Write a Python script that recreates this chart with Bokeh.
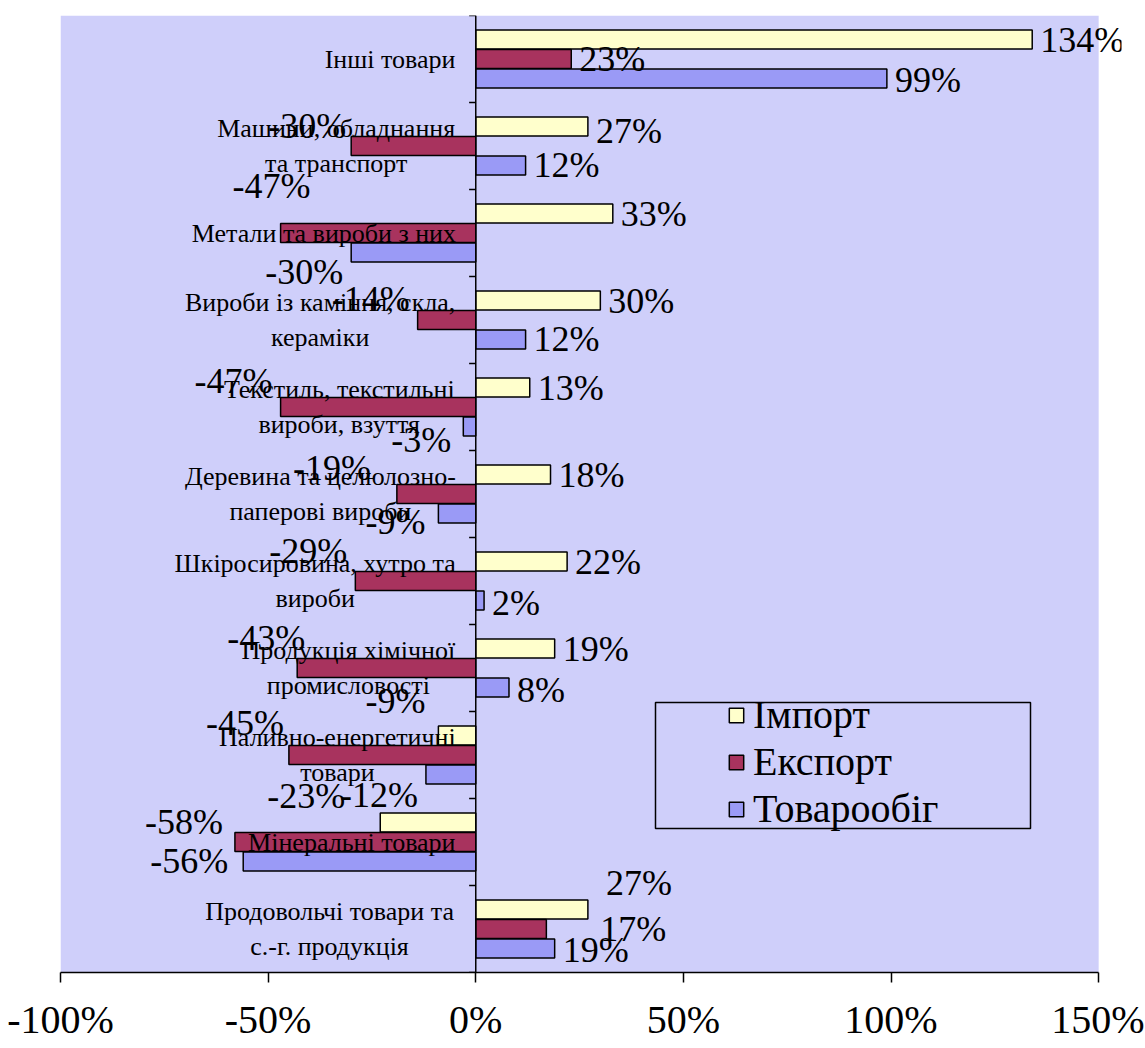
from bokeh.plotting import figure
from bokeh.models import (ColumnDataSource, FixedTicker, Span, Legend, LegendItem,
                          BoxAnnotation, Range1d)
from bokeh.core.properties import value
from bokeh.embed import file_html
from bokeh.resources import INLINE

# ---------------- data ----------------
categories = [
    "Інші товари",
    "Машини, обладнання\nта транспорт",
    "Метали та вироби з них",
    "Вироби із каміння, скла,\nкераміки",
    "Текстиль, текстильні\nвироби, взуття",
    "Деревина та целюлозно-\nпаперові вироби",
    "Шкіросировина, хутро та\nвироби",
    "Продукція хімічної\nпромисловості",
    "Паливно-енергетичні\nтовари",
    "Мінеральні товари",
    "Продовольчі товари та\nс.-г. продукція",
]
import_vals = [134, 27, 33, 30, 13, 18, 22, 19, -9, -23, 27]
export_vals = [23, -30, -47, -14, -47, -19, -29, -43, -45, -58, 17]
turnover_vals = [99, 12, -30, 12, -3, -9, 2, 8, -12, -56, 19]
series_names = ["Імпорт", "Експорт", "Товарообіг"]
x_ticks = [-100, -50, 0, 50, 100, 150]
x_tick_labels = ["-100%", "-50%", "0%", "50%", "100%", "150%"]

# ---------------- styles ----------------
LAV = "#CFCFFA"
colors = ["#FFFFCC", "#A8335E", "#9A9AF6"]
FONT = "Liberation Serif"
BAR_H = 0.218
BAR_SHIFT = [0.224, 0.0, -0.224]
X_MIN, X_MAX, X_VIEW_MAX = -100, 150, 155.5

# label nudges in screen px (dx right, dy down), per series per category
label_dx = [
    [0, 0, 0, 0, 0, 0, 0, 0, -5, -27, 10],
    [0, 3, 38, 0, 0, -18, 0, 16, 3, -4, 46],
    [0, 0, 0, 0, -4, -5, 0, 0, 0, -7, 0],
]
label_dy = [
    [0, 4, 0, 0, 0, 0, 0, 0, -35, -27, -27],
    [0, -20, -47, -21, -26, -26, -30, -30, -32, -20, 0],
    [2, 0, 20, 0, 14, 9, 3, 3, 21, 0, 2],
]

TIMES_W = {
    "А": 722, "Б": 574, "В": 667, "Г": 578, "Д": 682, "Е": 611, "Є": 667, "Ж": 896,
    "З": 501, "И": 722, "І": 333, "Ї": 333, "К": 667, "Л": 678, "М": 889, "Н": 722,
    "О": 722, "П": 722, "Р": 556, "С": 667, "Т": 611, "У": 643, "Ф": 790, "Х": 722,
    "Ц": 722, "Ч": 668, "Ш": 1020, "Щ": 1020, "Ю": 1015, "Я": 647,
    "а": 444, "б": 509, "в": 472, "г": 410, "ґ": 410, "д": 509, "е": 444, "є": 444,
    "ж": 691, "з": 395, "и": 535, "і": 278, "ї": 278, "й": 535, "к": 486, "л": 499,
    "м": 633, "н": 535, "о": 500, "п": 535, "р": 500, "с": 444, "т": 437, "у": 500,
    "ф": 648, "х": 500, "ц": 535, "ч": 503, "ш": 770, "щ": 770, "ь": 456, "ю": 734,
    "я": 479, " ": 250, ",": 250, ".": 250, "-": 333,
}
CAT_FONT_PX = 26


def est_width(text, px):
    return max(sum(TIMES_W.get(c, 500) for c in line) for line in text.split("\n")) * px / 1000.0


n = len(categories)
centers = [n - 0.5 - i for i in range(n)]

p = figure(width=1144, height=1046, x_range=Range1d(X_MIN, X_VIEW_MAX), y_range=Range1d(0, n),
           output_backend="svg", toolbar_location=None, y_axis_location=None,
           min_border_left=60, min_border_right=23, min_border_top=15, min_border_bottom=74,
           background_fill_color="white", border_fill_color="white", outline_line_color=None)
p.xgrid.visible = False
p.ygrid.visible = False

# lavender plot area (from -100% to 150%)
p.add_layout(BoxAnnotation(left=X_MIN, right=X_MAX, fill_color=LAV, fill_alpha=1,
                           line_alpha=0, level="underlay"))

all_vals = [import_vals, export_vals, turnover_vals]
renderers = []
for s, vals in enumerate(all_vals):
    src = ColumnDataSource(dict(y=[c + BAR_SHIFT[s] for c in centers], right=vals,
                                left=[0] * n))
    r = p.hbar(y="y", left="left", right="right", height=BAR_H, source=src,
               fill_color=colors[s], line_color="black", line_width=1.5)
    renderers.append(r)

# zero line and category boundary ticks
p.add_layout(Span(location=0, dimension="height", line_color="black", line_width=1.5))
bounds = list(range(n + 1))
p.segment(x0=[0] * len(bounds), x1=[-1.6] * len(bounds), y0=bounds, y1=bounds,
          line_color="black", line_width=1.5)

# category labels (centered block whose right edge is 20px left of zero)
cat_src = ColumnDataSource(dict(
    x=[0] * n, y=centers, text=categories,
    xo=[-20 - est_width(t, CAT_FONT_PX) / 2 for t in categories]))
p.text(x="x", y="y", text="text", x_offset="xo", source=cat_src,
       text_align="center", text_baseline="middle", text_font=value(FONT),
       text_font_size=f"{CAT_FONT_PX}px", text_color="black", text_line_height=1.18)

# data labels
for s, vals in enumerate(all_vals):
    src = ColumnDataSource(dict(
        x=vals, y=[c + BAR_SHIFT[s] for c in centers],
        text=[f"{v}%" for v in vals],
        align=["left" if v >= 0 else "right" for v in vals],
        xo=[(8 if v >= 0 else -8) + label_dx[s][i] for i, v in enumerate(vals)],
        yo=label_dy[s]))
    p.text(x="x", y="y", text="text", source=src, text_align="align",
           text_baseline="middle", x_offset="xo", y_offset="yo",
           text_font=value(FONT), text_font_size="36px", text_color="black")

# x axis
ax = p.xaxis[0]
ax.bounds = (X_MIN, X_MAX)
ax.ticker = FixedTicker(ticks=x_ticks, minor_ticks=[])
ax.major_label_overrides = {t: l for t, l in zip(x_ticks, x_tick_labels)}
ax.axis_line_color = "black"
ax.axis_line_width = 1.5
ax.major_tick_line_color = "black"
ax.major_tick_line_width = 1.5
ax.major_tick_out = 10
ax.major_tick_in = 0
ax.minor_tick_out = 0
ax.major_label_standoff = 14
ax.major_label_text_font = FONT
ax.major_label_text_font_size = "40px"
ax.major_label_text_color = "black"

# legend
legend = Legend(items=[LegendItem(label=nm, renderers=[r]) for nm, r in zip(series_names, renderers)],
                location=(667, 140), padding=0, margin=0, spacing=0, label_height=40,
                glyph_width=18, glyph_height=18, label_standoff=8,
                border_line_alpha=0, background_fill_alpha=0,
                label_text_font=FONT, label_text_font_size="40px", label_text_color="black")
p.add_layout(legend)
p.add_layout(BoxAnnotation(left=595, right=970, bottom=144, top=270,
                           left_units="screen", right_units="screen",
                           top_units="screen", bottom_units="screen",
                           fill_alpha=0, line_color="black", line_alpha=1, line_width=1.5))

open("out.html", "w").write(file_html(p, INLINE))
